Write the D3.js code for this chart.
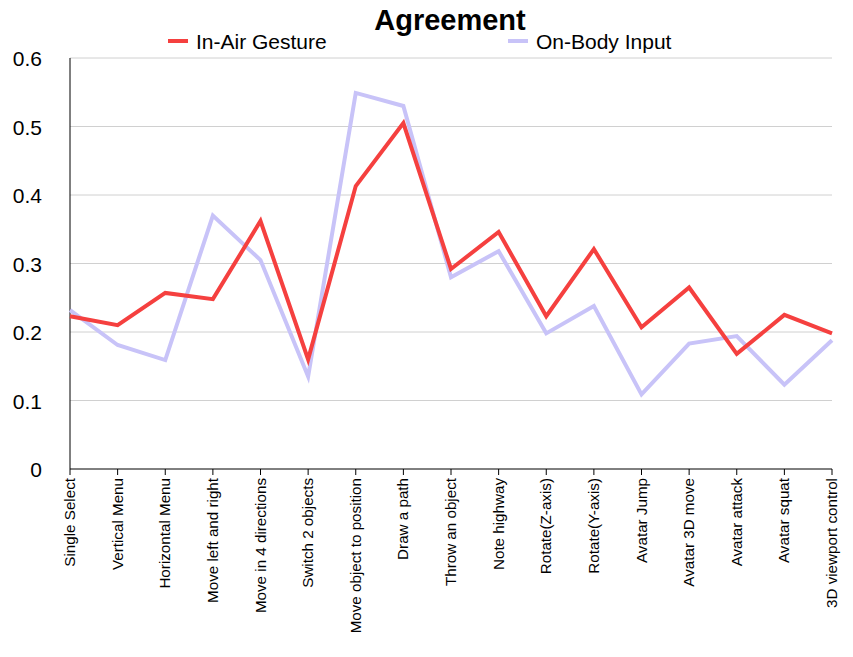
<!DOCTYPE html><html><head><meta charset="utf-8"><script src="https://cdn.jsdelivr.net/npm/d3@7"></script>
<style>body{margin:0;background:#fff;font-family:"Liberation Sans",Arial,sans-serif}</style></head><body><svg id="c" width="853" height="657"></svg><script>
const categories=["Single Select","Vertical Menu","Horizontal Menu","Move left and right","Move in 4 directions","Switch 2 objects","Move object to position","Draw a path","Throw an object","Note highway","Rotate(Z-axis)","Rotate(Y-axis)","Avatar Jump","Avatar 3D move","Avatar attack","Avatar squat","3D viewport control"];
const inAir=[0.223,0.21,0.257,0.248,0.362,0.16,0.413,0.505,0.292,0.346,0.223,0.321,0.207,0.265,0.168,0.225,0.198];
const onBody=[0.232,0.181,0.159,0.37,0.305,0.135,0.549,0.53,0.28,0.318,0.198,0.238,0.109,0.183,0.194,0.123,0.188];
const yTicks=[0,0.1,0.2,0.3,0.4,0.5,0.6];
const svg=d3.select("#c");
const x=d3.scalePoint().domain(categories).range([70,832]);
const y=d3.scaleLinear().domain([0,0.6]).range([469,58]);
svg.append("g").selectAll("line").data(yTicks.slice(1)).join("line").attr("x1",70).attr("x2",832).attr("y1",d=>y(d)).attr("y2",d=>y(d)).attr("stroke","#d0d0d0");
svg.append("line").attr("x1",70).attr("x2",70).attr("y1",58).attr("y2",469).attr("stroke","#000");
svg.append("line").attr("x1",70).attr("x2",832).attr("y1",469).attr("y2",469).attr("stroke","#000");
svg.append("g").selectAll("line").data(categories).join("line").attr("x1",d=>x(d)).attr("x2",d=>x(d)).attr("y1",469).attr("y2",475).attr("stroke","#000");
svg.append("g").selectAll("text").data(yTicks).join("text").attr("x",42).attr("y",d=>y(d)+8).attr("text-anchor","end").attr("font-size",21).text(d=>d===0?"0":d);
svg.append("g").selectAll("text").data(categories).join("text").attr("transform",d=>`translate(${x(d)+5},478) rotate(-90)`).attr("text-anchor","end").attr("font-size",15.2).text(d=>d);
const line=d3.line().x((d,i)=>x(categories[i])).y(d=>y(d));
svg.append("path").datum(onBody).attr("d",line).attr("fill","none").attr("stroke","#c8c3f8").attr("stroke-width",4);
svg.append("path").datum(inAir).attr("d",line).attr("fill","none").attr("stroke","#f5403f").attr("stroke-width",4);
svg.append("text").attr("x",450).attr("y",30).attr("text-anchor","middle").attr("font-size",29).attr("font-weight","bold").text("Agreement");
const leg=[["In-Air Gesture","#f5403f",168],["On-Body Input","#c8c3f8",508]];
leg.forEach(([t,c,lx])=>{svg.append("line").attr("x1",lx).attr("x2",lx+20).attr("y1",41).attr("y2",41).attr("stroke",c).attr("stroke-width",4);
svg.append("text").attr("x",lx+28).attr("y",49).attr("font-size",21).text(t);});
</script></body></html>
